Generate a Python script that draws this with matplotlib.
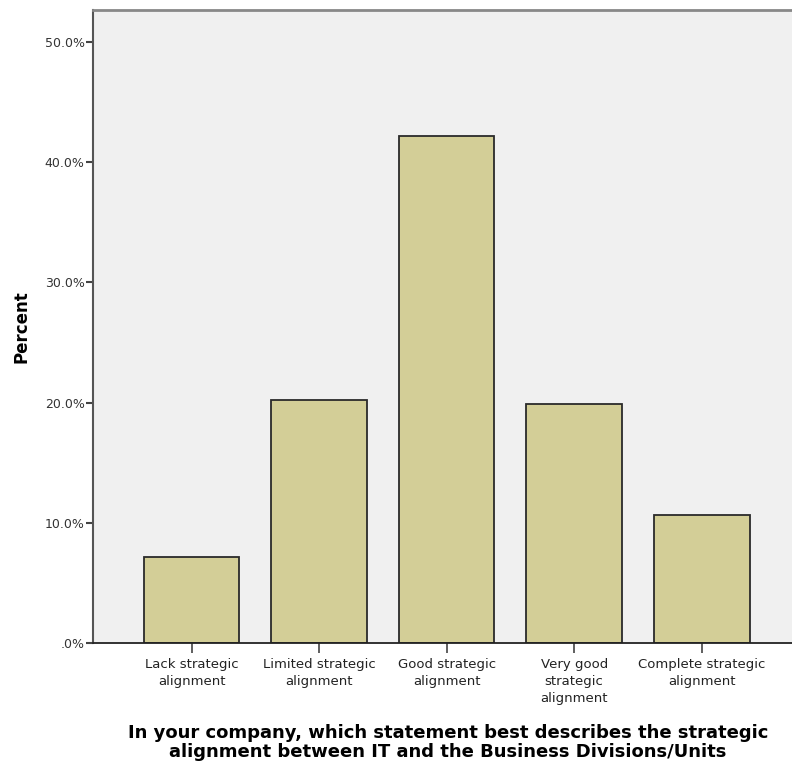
import matplotlib.pyplot as plt

categories = ['Lack strategic\nalignment', 'Limited strategic\nalignment', 'Good strategic\nalignment',
              'Very good\nstrategic\nalignment', 'Complete strategic\nalignment']
percent = [7.15, 20.2, 42.2, 19.9, 10.65]
yticks = [0, 10, 20, 30, 40, 50]
ytick_labels = ['.0%', '10.0%', '20.0%', '30.0%', '40.0%', '50.0%']

fig = plt.figure(figsize=(7.92, 7.69), dpi=100)
ax = fig.add_axes([93/792, (769-643)/769, 1.0 - 93/792 + 0.01, (643-10)/769])
ax.set_facecolor('#f0f0f0')

x = list(range(len(categories)))
ax.bar(x, percent, width=0.75, color='#d3ce97', edgecolor='#2a2a2a', linewidth=1.3)

ax.set_xlim(-0.773, 4.77)
ax.set_ylim(0, 52.66)
ax.set_yticks(yticks)
ax.set_yticklabels(ytick_labels, fontsize=9, color='#333333')
ax.set_xticks(x)
ax.set_xticklabels(categories, fontsize=9.5, color='#222222', linespacing=1.4)
ax.tick_params(axis='y', direction='out', length=5, width=1.5, color='#444444', pad=1)
ax.tick_params(axis='x', direction='out', length=7, width=1.2, color='#444444', pad=4)

ax.spines['left'].set_color('#555555')
ax.spines['left'].set_linewidth(1.5)
ax.spines['bottom'].set_color('#222222')
ax.spines['bottom'].set_linewidth(1.3)
ax.spines['top'].set_color('#888888')
ax.spines['top'].set_linewidth(2)
ax.spines['right'].set_visible(False)

ax.set_ylabel('Percent', fontsize=12, fontweight='bold')
ax.yaxis.set_label_coords(-63/707, 0.5)
ax.set_xlabel('In your company, which statement best describes the strategic\nalignment between IT and the Business Divisions/Units',
              fontsize=13, fontweight='bold', linespacing=1.1)
ax.xaxis.set_label_coords((448-93)/(792-93+8), -0.128)

fig.savefig('out.png', dpi=100)
